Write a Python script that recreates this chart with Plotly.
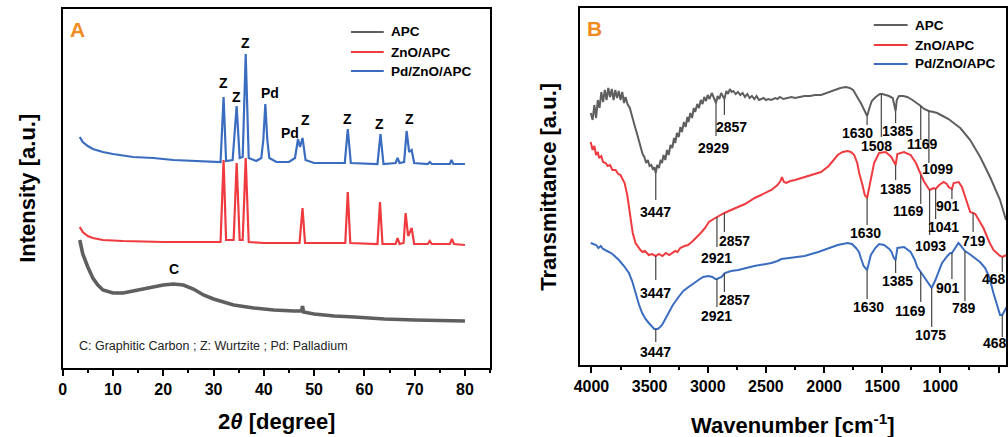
import plotly.graph_objects as go

W, H = 1008, 437

# ---------------- Panel A: XRD patterns (intensity in a.u.) ----------------
xrd_apc_2theta = [3.4, 4, 5, 6, 7, 8, 10, 12, 14, 16, 18, 20, 22, 24, 26, 28, 30, 32, 34, 38,
                  42, 46, 47.5, 47.7, 47.9, 50, 54, 58, 64, 70, 80]
xrd_apc_int = [128, 114, 101, 90, 83, 78, 75, 75, 77, 79, 81, 83, 84, 83, 79, 73, 69, 66, 63, 60,
               58, 57, 57, 62, 56, 54, 52, 51, 49, 48, 47]

xrd_zno_2theta = [3.4, 4, 5, 6, 8, 12, 20, 28, 31.4, 32.0, 32.5, 34.0, 34.6, 35.2, 35.8, 36.4, 37.0,
                  40, 47.1, 47.7, 48.2, 52, 56.2, 56.7, 57.2, 62.6, 63.1, 63.6, 66.2, 66.6, 67.0,
                  67.8, 68.2, 68.7, 69.4, 69.9, 72.6, 73.0, 73.4, 77.0, 77.4, 77.8, 80]
xrd_zno_int = [141, 136, 132, 130, 128, 127, 126, 126, 126, 208, 128, 128, 205, 128, 128, 210, 126,
               125, 125, 160, 125, 125, 125, 176, 125, 124, 166, 124, 124, 130, 124,
               125, 155, 132, 140, 124, 124, 127, 124, 124, 129, 124, 123]

xrd_pd_2theta = [3.4, 4, 5, 6, 8, 10, 14, 18, 22, 26, 30, 31.4, 32.0, 32.5, 33.8, 34.6, 35.2, 35.8,
                 36.4, 37.0, 38.5, 39.5, 39.9, 40.3, 40.7, 41.1, 42.5, 45, 46.2, 46.8, 47.2, 47.7,
                 48.3, 50, 56.1, 56.7, 57.3, 62.6, 63.2, 63.8, 66.2, 66.6, 67.0, 67.9, 68.4, 68.9,
                 69.4, 69.9, 72.6, 73.0, 73.4, 77.0, 77.3, 77.7, 80]
xrd_pd_int = [231, 226, 222, 219, 216, 214, 211, 210, 208, 207, 206, 206, 271, 207, 208, 262, 210, 211,
              314, 210, 207, 210, 228, 264, 228, 210, 206, 206, 210, 229, 221, 230,
              208, 205, 205, 239, 205, 204, 234, 204, 205, 210, 205, 206, 237, 216,
              218, 205, 204, 206, 204, 204, 208, 204, 204]

# Phase labels above the reflections
xrd_peak_text = ["Z", "Z", "Z", "Pd", "Pd", "Z", "Z", "Z", "Z", "C"]
xrd_peak_2theta = [32.0, 34.6, 36.4, 41.2, 45.3, 48.3, 56.7, 63.1, 69.0, 22.2]
xrd_peak_y = [285, 271, 325, 275, 235, 248, 249, 244, 249, 99]

# ---------------- Panel B: FTIR spectra (transmittance in a.u.) ----------------
ftir_apc_wn = [4006, 3990, 3975, 3960, 3945, 3930, 3915, 3900, 3885, 3870, 3855, 3840, 3825, 3810,
               3795, 3780, 3765, 3750, 3735, 3720, 3707, 3690, 3670, 3650, 3630, 3610, 3593, 3575,
               3560, 3545, 3530, 3515, 3500, 3485, 3470, 3460, 3447, 3435, 3420, 3405, 3393, 3380,
               3365, 3350, 3336, 3320, 3305, 3290, 3279, 3265, 3250, 3235, 3222, 3205, 3190, 3175,
               3165, 3150, 3135, 3120, 3108, 3090, 3075, 3060, 3045, 3030, 3015, 3000, 2985, 2965,
               2945, 2929, 2915, 2900, 2885, 2870, 2857, 2840, 2825, 2810, 2795, 2780, 2760, 2740,
               2720, 2700, 2680, 2660, 2640, 2620, 2600, 2580, 2560, 2540, 2520, 2500, 2480, 2453,
               2420, 2400, 2380, 2350, 2310, 2280, 2250, 2200, 2168, 2120, 2080, 2026, 1980, 1940,
               1900, 1860, 1812, 1780, 1750, 1712, 1680, 1655, 1630, 1610, 1590, 1556, 1520, 1499,
               1470, 1442, 1410, 1395, 1385, 1375, 1356, 1320, 1285, 1240, 1199, 1169, 1140, 1099,
               1060, 1028, 980, 930, 886, 829, 744, 658, 573, 487, 436]
ftir_apc_t = [252, 245, 260, 247, 265, 257, 273, 263, 275, 265, 277, 268, 276, 265,
              275, 267, 274, 265, 273, 262, 268, 261, 257, 247, 240, 232, 225, 215,
              211, 208, 202, 205, 199, 200, 195, 198, 192, 200, 197, 205, 202, 210,
              205, 215, 210, 220, 217, 227, 222, 232, 228, 238, 233, 243, 238, 248,
              243, 252, 247, 257, 253, 261, 257, 265, 261, 268, 264, 270, 266, 272,
              267, 262, 269, 266, 272, 269, 266, 274, 271, 276, 273, 274, 271, 273,
              270, 272, 268, 271, 267, 269, 266, 269, 265, 266, 267, 265, 266, 265,
              267, 266, 268, 266, 267, 268, 267, 268, 269, 269, 270, 270, 272, 274,
              275, 277, 278, 277, 275, 268, 261, 255, 249, 257, 264, 268, 271, 271,
              270, 269, 267, 258, 254, 265, 269, 269, 268, 265, 262, 259, 256, 254,
              253, 252, 249, 246, 242, 237, 225, 208, 188, 165, 145]

ftir_zno_wn = [4006, 3990, 3975, 3960, 3945, 3934, 3915, 3900, 3878, 3860, 3840, 3820, 3792, 3770,
               3750, 3735, 3715, 3692, 3675, 3664, 3645, 3621, 3600, 3579, 3560, 3540, 3507, 3480,
               3447, 3420, 3390, 3360, 3330, 3308, 3280, 3260, 3237, 3200, 3170, 3137, 3100, 3060,
               3023, 2990, 2950, 2921, 2890, 2857, 2800, 2738, 2680, 2596, 2520, 2453, 2400, 2375,
               2362, 2345, 2325, 2290, 2250, 2168, 2100, 2026, 1960, 1883, 1840, 1798, 1770, 1741,
               1715, 1698, 1670, 1650, 1630, 1613, 1590, 1570, 1527, 1470, 1422, 1400, 1385, 1370,
               1313, 1256, 1210, 1185, 1169, 1143, 1100, 1093, 1075, 1057, 1041, 1010, 972, 945,
               929, 901, 886, 843, 815, 780, 744, 719, 700, 660, 630, 580, 544, 487, 468, 430]
ftir_zno_t = [223, 215, 219, 210, 213, 207, 209, 203, 202, 199, 200, 195, 195, 191,
              190, 187, 182, 170, 157, 145, 132, 122, 118, 115, 113, 114, 110, 111,
              109, 111, 109, 112, 110, 112, 114, 113, 117, 119, 120, 123, 127, 132,
              137, 143, 146, 148, 150, 152, 155, 158, 161, 167, 171, 175, 180, 184,
              188, 183, 182, 184, 185, 188, 190, 193, 199, 210, 213, 214, 213, 210,
              202, 192, 180, 170, 167, 178, 193, 202, 212, 213, 208, 203, 200, 211,
              213, 210, 202, 195, 190, 184, 176, 175, 176, 177, 176, 180, 183, 181,
              178, 176, 182, 183, 178, 165, 153, 152, 151, 143, 137, 123, 115, 109, 108, 110]

ftir_pd_wn = [4006, 3960, 3940, 3920, 3900, 3878, 3850, 3820, 3790, 3764, 3720, 3678, 3650, 3621,
              3590, 3564, 3535, 3507, 3480, 3460, 3447, 3430, 3410, 3393, 3365, 3336, 3300, 3251,
              3210, 3165, 3120, 3080, 3040, 2994, 2960, 2935, 2921, 2900, 2881, 2860, 2852, 2800,
              2738, 2600, 2453, 2400, 2368, 2300, 2168, 2050, 1950, 1883, 1798, 1760, 1726, 1700,
              1684, 1660, 1630, 1610, 1598, 1560, 1527, 1484, 1440, 1420, 1400, 1385, 1370, 1313,
              1256, 1220, 1199, 1169, 1140, 1110, 1075, 1043, 1010, 986, 940, 915, 901, 870,
              845, 830, 800, 789, 750, 715, 660, 615, 580, 544, 510, 487, 468, 445, 430]
ftir_pd_t = [122, 120, 117, 119, 116, 115, 113, 111, 108, 105, 99, 92, 84, 72,
             60, 52, 46, 42, 38, 36, 36, 36, 38, 40, 46, 52, 60, 68,
             74, 78, 82, 85, 88, 89, 88, 86, 86, 87, 88, 91, 92, 94,
             95, 99, 102, 104, 106, 107, 109, 113, 117, 120, 122, 121, 117, 113,
             107, 99, 95, 103, 110, 117, 121, 120, 116, 113, 107, 105, 117, 118,
             113, 105, 98, 93, 88, 82, 77, 85, 95, 102, 109, 112, 112, 118,
             122, 120, 115, 114, 111, 108, 103, 97, 88, 72, 60, 50, 50, 55, 58]

# Band assignments: label text, label anchor (wavenumber, height), marker line span
ftir_band_series = ["APC"] * 8 + ["ZnO/APC"] * 11 + ["Pd/ZnO/APC"] * 10
ftir_band_text = ["3447", "2929", "2857", "1630", "1508", "1385", "1169", "1099",
                  "3447", "2921", "2857", "1630", "1385", "1169", "1093", "1041", "901", "719", "468",
                  "3447", "2921", "2857", "1630", "1385", "1169", "1075", "901", "789", "468"]
ftir_band_line_top = [192, 262, 266, 249, 271, 254, 259, 254,
                      109, 148, 152, 167, 200, 190, 175, 176, 176, 152, 108,
                      36, 86, 92, 95, 105, 93, 77, 112, 114, 50]
ftir_band_line_bottom = [165, 229, 250, 240, 228, 242, 225, 202,
                         85, 118, 133, 140, 185, 161, 130, 146, 166, 133, 93,
                         23, 58, 73, 66, 92, 63, 38, 86, 64, 28]
ftir_label_wn = [3450, 2951, 2795, 1712, 1547, 1370, 1156, 1028,
                 3450, 2929, 2769, 1641, 1385, 1271, 1085, 972, 934, 715, 538,
                 3450, 2929, 2767, 1618, 1370, 1256, 1085, 934, 801, 530]
ftir_label_y = [153, 217, 238, 232, 219, 234, 221, 196,
                72, 107, 124, 132, 176, 154, 119, 138, 159, 124, 86,
                13, 49, 65, 58, 84, 54, 30, 77, 57, 22]

series_names = ["APC", "ZnO/APC", "Pd/ZnO/APC"]
series_colors = {"APC": "#5f5f5f", "ZnO/APC": "#ef3b3f", "Pd/ZnO/APC": "#3a6dbf"}

FONT = "Liberation Sans, Arial, Helvetica, sans-serif"
ORANGE = "#f28a22"


def px(x):
    return x / W


def py(y):
    return 1 - y / H


fig = go.Figure()

# XRD traces
fig.add_trace(go.Scatter(x=xrd_apc_2theta, y=xrd_apc_int, mode="lines", name="APC",
                         line=dict(color=series_colors["APC"], width=3.6), xaxis="x", yaxis="y",
                         showlegend=False))
fig.add_trace(go.Scatter(x=xrd_zno_2theta, y=xrd_zno_int, mode="lines", name="ZnO/APC",
                         line=dict(color=series_colors["ZnO/APC"], width=2.2), xaxis="x", yaxis="y",
                         showlegend=False))
fig.add_trace(go.Scatter(x=xrd_pd_2theta, y=xrd_pd_int, mode="lines", name="Pd/ZnO/APC",
                         line=dict(color=series_colors["Pd/ZnO/APC"], width=2.2), xaxis="x", yaxis="y",
                         showlegend=False))

# FTIR traces
fig.add_trace(go.Scatter(x=ftir_apc_wn, y=ftir_apc_t, mode="lines", name="APC",
                         line=dict(color=series_colors["APC"], width=2), xaxis="x2", yaxis="y2",
                         showlegend=False))
fig.add_trace(go.Scatter(x=ftir_zno_wn, y=ftir_zno_t, mode="lines", name="ZnO/APC",
                         line=dict(color=series_colors["ZnO/APC"], width=2), xaxis="x2", yaxis="y2",
                         showlegend=False))
fig.add_trace(go.Scatter(x=ftir_pd_wn, y=ftir_pd_t, mode="lines", name="Pd/ZnO/APC",
                         line=dict(color=series_colors["Pd/ZnO/APC"], width=2), xaxis="x2", yaxis="y2",
                         showlegend=False))

shapes = []
annotations = []

# Phase labels on the XRD panel
for txt, x, y in zip(xrd_peak_text, xrd_peak_2theta, xrd_peak_y):
    annotations.append(dict(x=x, y=y, xref="x", yref="y", text=txt, showarrow=False,
                            font=dict(family=FONT, size=14, color="black", weight="bold"),
                            xanchor="center", yanchor="middle"))

annotations.append(dict(x=px(71), y=py(346), xref="paper", yref="paper", xanchor="left",
                        yanchor="middle", showarrow=False,
                        text="C: Graphitic Carbon ; Z: Wurtzite ; Pd: Palladium",
                        font=dict(family=FONT, size=12.5, color="#222222")))

# FTIR band markers
for txt, top, bot, lx, ly in zip(ftir_band_text, ftir_band_line_top, ftir_band_line_bottom,
                                 ftir_label_wn, ftir_label_y):
    wn = float(txt)
    shapes.append(dict(type="line", xref="x2", yref="y2", x0=wn, x1=wn, y0=top, y1=bot,
                       line=dict(color="#444444", width=1.2)))
    annotations.append(dict(x=lx, y=ly, xref="x2", yref="y2", text=txt, showarrow=False,
                            font=dict(family=FONT, size=14, color="black", weight="bold"),
                            xanchor="center", yanchor="middle"))

# Legends drawn inside each panel
legend_font = dict(family=FONT, size=13.5, color="black", weight="bold")
legend_rows = [32, 52, 71]
for name, ry in zip(series_names, legend_rows):
    shapes.append(dict(type="line", xref="paper", yref="paper", x0=px(347), x1=px(380),
                       y0=py(ry), y1=py(ry), line=dict(color=series_colors[name], width=2.2)))
    annotations.append(dict(x=px(385), y=py(ry), xref="paper", yref="paper", text=name,
                            showarrow=False, xanchor="left", yanchor="middle", font=legend_font))
legend_rows_b = [25, 45, 64]
for name, ry in zip(series_names, legend_rows_b):
    shapes.append(dict(type="line", xref="paper", yref="paper", x0=px(873), x1=px(907),
                       y0=py(ry), y1=py(ry), line=dict(color=series_colors[name], width=2.2)))
    annotations.append(dict(x=px(912), y=py(ry), xref="paper", yref="paper", text=name,
                            showarrow=False, xanchor="left", yanchor="middle", font=legend_font))

# Panel letters
annotations.append(dict(x=px(62), y=py(29), xref="paper", yref="paper", text="A", showarrow=False,
                        xanchor="left", yanchor="middle",
                        font=dict(family=FONT, size=21, color=ORANGE, weight="bold")))
annotations.append(dict(x=px(582), y=py(28), xref="paper", yref="paper", text="B", showarrow=False,
                        xanchor="left", yanchor="middle",
                        font=dict(family=FONT, size=21, color=ORANGE, weight="bold")))

# Axis titles
title_font = dict(family=FONT, size=22, color="black", weight="bold")
annotations.append(dict(x=px(272), y=py(421), xref="paper", yref="paper",
                        text="2<i>θ</i> [degree]", showarrow=False, xanchor="center",
                        yanchor="middle", font=title_font))
annotations.append(dict(x=px(792), y=py(424), xref="paper", yref="paper",
                        text="Wavenumber [cm<sup>-1</sup>]", showarrow=False, xanchor="center",
                        yanchor="middle", font=title_font))
annotations.append(dict(x=px(22), y=py(188), xref="paper", yref="paper",
                        text="Intensity [a.u.]", showarrow=False, textangle=-90,
                        xanchor="center", yanchor="middle", font=title_font))
annotations.append(dict(x=px(545), y=py(187), xref="paper", yref="paper",
                        text="Transmittance [a.u.]", showarrow=False, textangle=-90,
                        xanchor="center", yanchor="middle", font=title_font))

tick_font = dict(family=FONT, size=16, color="black", weight="bold")
frame = dict(showline=True, linecolor="black", linewidth=2, mirror=True, showgrid=False,
             zeroline=False)

fig.update_layout(
    width=W, height=H,
    margin=dict(l=0, r=0, t=0, b=0),
    paper_bgcolor="white", plot_bgcolor="white",
    showlegend=False,
    xaxis=dict(domain=[px(57), px(487)], range=[0, 85], anchor="y",
               tickmode="array", tickvals=[0, 10, 20, 30, 40, 50, 60, 70, 80],
               ticks="outside", ticklen=6, tickwidth=2, tickcolor="black", tickfont=tick_font,
               minor=dict(ticks="outside", ticklen=3, tickwidth=2, tickcolor="black",
                          dtick=5, tick0=0),
               **frame),
    yaxis=dict(domain=[py(368), py(9)], range=[0, 359], anchor="x",
               showticklabels=False, ticks="", **frame),
    xaxis2=dict(domain=[px(577), px(1006)], range=[4102, 436], anchor="y2",
                tickmode="array", tickvals=[4000, 3500, 3000, 2500, 2000, 1500, 1000, 500],
                ticks="outside", ticklen=6, tickwidth=2, tickcolor="black", tickfont=tick_font,
                minor=dict(ticks="outside", ticklen=3, tickwidth=2, tickcolor="black",
                           dtick=250, tick0=0),
                **frame),
    yaxis2=dict(domain=[py(365), py(8)], range=[0, 357], anchor="x2",
                showticklabels=False, ticks="", **frame),
    shapes=shapes,
    annotations=annotations,
)

fig.write_html("out.html")
